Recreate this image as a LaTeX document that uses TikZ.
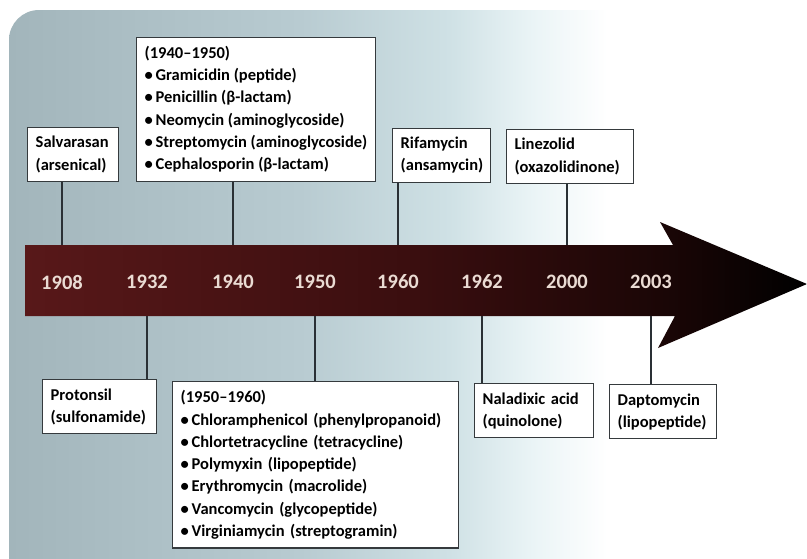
\documentclass[tikz,border=0pt]{standalone}
\usepackage{fontspec}
\setmainfont{Carlito}
\usetikzlibrary{positioning, calc}

\definecolor{bgA}{HTML}{A2B5BB}
\definecolor{bgB}{HTML}{B8CBD1}
\definecolor{bgC}{HTML}{CFE1E5}
\definecolor{bgD}{HTML}{EAF4F6}
\definecolor{bandA}{HTML}{581819}
\definecolor{bandB}{HTML}{3A0E0F}
\definecolor{bandC}{HTML}{1A0606}
\definecolor{yeartext}{HTML}{EADBD3}
\definecolor{boxline}{HTML}{353A3D}
\definecolor{stemline}{HTML}{2A3035}

\pgfdeclarehorizontalshading{bgfade}{100bp}{color(0bp)=(bgA); color(25bp)=(bgA); color(42.5bp)=(bgB); color(51.5bp)=(bgC); color(56.5bp)=(bgD); color(61bp)=(white); color(100bp)=(white)}
\pgfdeclarehorizontalshading{bandfade}{100bp}{color(0bp)=(bandA); color(25bp)=(bandA); color(50bp)=(bandB); color(66bp)=(bandC); color(75bp)=(black); color(100bp)=(black)}

\begin{document}
\begin{tikzpicture}[
        x=1pt, y=-1pt,
        % Styles
        drug/.style={draw=boxline, line width=1.4pt, fill=white, font=\fontsize{16.5}{22.3}\selectfont\bfseries, align=left, inner xsep=8pt, inner ysep=8.8pt},
        year/.style={font=\fontsize{20.5}{24}\selectfont\bfseries, text=yeartext},
        stem/.style={draw=stemline, line width=1.4pt},
    ]
        \useasboundingbox (0,0) rectangle (807,558);

        % === Background panel ===
        \begin{scope}
            \clip (0,0) rectangle (807,558);
            \shade[shading=bgfade, rounded corners=30pt] (9,10) rectangle (840,590);
        \end{scope}

        % === Time arrow ===
        \coordinate (bandtop) at (0,245);
        \coordinate (bandbot) at (0,316);
        \shade[shading=bandfade] (25,245) -- (673,245) -- (660,222) -- (807,284) -- (658,348) -- (675,316) -- (25,316) -- cycle;

        % === Years on the arrow ===
        \node[year] (yr1908) at (62,282) {1908};
        \node[year] (yr1932) at (147,282) {1932};
        \node[year] (yr1940) at (233,282) {1940};
        \node[year] (yr1950) at (315,282) {1950};
        \node[year] (yr1960) at (398,282) {1960};
        \node[year] (yr1962) at (482,282) {1962};
        \node[year] (yr2000) at (567,282) {2000};
        \node[year] (yr2003) at (651,282) {2003};

        % === Boxes above the arrow ===
        \node[drug, text width=75pt, anchor=south west] (salv) at (27,182) {Salvarasan\\(arsenical)};
        \node[drug, anchor=south west] (era40) at (136,182) {(1940–1950)\\\textbullet\,Gramicidin (peptide)\\\textbullet\,Penicillin (β-lactam)\\\textbullet\,Neomycin (aminoglycoside)\\\textbullet\,Streptomycin (aminoglycoside)\\\textbullet\,Cephalosporin (β-lactam)};
        \node[drug, text width=82pt, anchor=south west] (rifa) at (392,183) {Rifamycin\\(ansamycin)};
        \node[drug, text width=111pt, anchor=south west] (line) at (506,184) {Linezolid\\(oxazolidinone)};

        % === Boxes below the arrow ===
        \node[drug, text width=98pt, anchor=north west] (prot) at (42,379) {Protonsil\\(sulfonamide)};
        \node[drug, text width=270pt, anchor=north west] (era50) at (172,381) {(1950–1960)\\\textbullet\,Chloramphenicol (phenylpropanoid)\\\textbullet\,Chlortetracycline (tetracycline)\\\textbullet\,Polymyxin (lipopeptide)\\\textbullet\,Erythromycin (macrolide)\\\textbullet\,Vancomycin (glycopeptide)\\\textbullet\,Virginiamycin (streptogramin)};
        \node[drug, text width=103pt, anchor=north west] (nala) at (474,383) {Naladixic acid\\(quinolone)};
        \node[drug, text width=91pt, anchor=north west] (dapt) at (609,384) {Daptomycin\\(lipopeptide)};

        % === Stems from boxes to the arrow ===
        \draw[stem] (salv.south -| yr1908) -- (bandtop -| yr1908);
        \draw[stem] (era40.south -| yr1940) -- (bandtop -| yr1940);
        \draw[stem] (rifa.south -| yr1960) -- (bandtop -| yr1960);
        \draw[stem] (line.south -| yr2000) -- (bandtop -| yr2000);
        \draw[stem] (prot.north -| yr1932) -- (bandbot -| yr1932);
        \draw[stem] (era50.north -| yr1950) -- (bandbot -| yr1950);
        \draw[stem] (nala.north -| yr1962) -- (bandbot -| yr1962);
        \draw[stem] (dapt.north -| yr2003) -- (bandbot -| yr2003);

    \end{tikzpicture}
\end{document}
